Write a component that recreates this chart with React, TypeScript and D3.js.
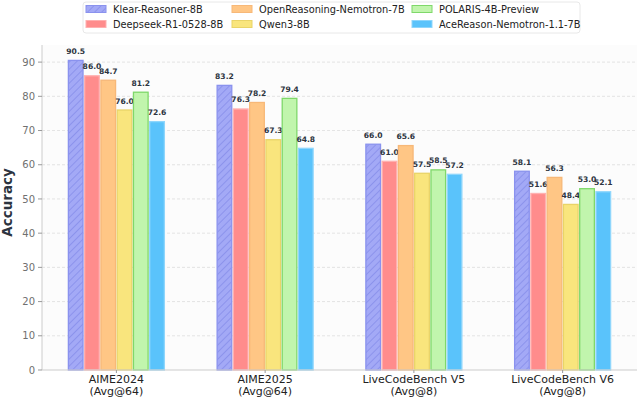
import React from "react";
import * as d3 from "d3";

const benchmarks = ["AIME2024", "AIME2025", "LiveCodeBench V5", "LiveCodeBench V6"];
const subLabels = ["(Avg@64)", "(Avg@64)", "(Avg@8)", "(Avg@8)"];
const models = [
  "Klear-Reasoner-8B",
  "Deepseek-R1-0528-8B",
  "OpenReasoning-Nemotron-7B",
  "Qwen3-8B",
  "POLARIS-4B-Preview",
  "AceReason-Nemotron-1.1-7B",
];
const klear = [90.5, 83.2, 66.0, 58.1];
const deepseek = [86.0, 76.3, 61.0, 51.6];
const openReasoning = [84.7, 78.2, 65.6, 56.3];
const qwen3 = [76.0, 67.3, 57.5, 48.4];
const polaris = [81.2, 79.4, 58.5, 53.0];
const aceReason = [72.6, 64.8, 57.2, 52.1];
const series = [klear, deepseek, openReasoning, qwen3, polaris, aceReason];
const yTicks = [0, 10, 20, 30, 40, 50, 60, 70, 80, 90];

const fills = ["#a3a9f6", "#ff8c8c", "#ffc685", "#f9e57d", "#c1f5ad", "#5ac3fb"];
const strokes = ["#8a92ee", "#ffb0b0", "#f7b878", "#e9d468", "#7fd86a", "#8fd6fc"];

const W = 640;
const H = 398;
const margin = { top: 45, right: 3, bottom: 28, left: 42 };
const font = "DejaVu Sans, sans-serif";

export default function App() {
  const x = d3
    .scalePoint<string>()
    .domain(benchmarks)
    .range([margin.left, W - margin.right])
    .padding(0.5);
  const inner = d3
    .scaleBand<string>()
    .domain(models)
    .range([-48, 48])
    .paddingInner(0.1);
  const y = d3.scaleLinear().domain([0, 95]).range([H - margin.bottom, margin.top]);

  const legendCols = [86, 232, 412];
  const legendRows = [9, 24];

  return (
    <svg
      width={W}
      height={H}
      style={{ position: "absolute", left: 0, top: 0, fontFamily: font }}
    >
      <defs>
        <pattern
          id="hatch"
          patternUnits="userSpaceOnUse"
          width={5}
          height={5}
          patternTransform="rotate(45)"
        >
          <rect width={5} height={5} fill={fills[0]} />
          <line x1={0} y1={0} x2={0} y2={5} stroke="#7c84e6" strokeWidth={1.2} />
        </pattern>
      </defs>
      <rect x={0} y={0} width={W} height={H} fill="#ffffff" />
      <rect
        x={margin.left}
        y={margin.top}
        width={W - margin.left - margin.right}
        height={H - margin.top - margin.bottom}
        fill="#fcfcfc"
      />
      {/* grid */}
      {yTicks.slice(1).map((t) => (
        <line
          key={t}
          x1={margin.left}
          x2={W - margin.right}
          y1={y(t)}
          y2={y(t)}
          stroke="#dddddd"
          strokeWidth={0.8}
          strokeDasharray="3,2"
        />
      ))}
      {/* bars */}
      {benchmarks.map((b, i) => (
        <g key={b} transform={`translate(${x(b)},0)`}>
          {models.map((m, j) => {
            const v = series[j][i];
            const bx = inner(m)!;
            return (
              <g key={m}>
                <rect
                  x={bx}
                  y={y(v)}
                  width={inner.bandwidth()}
                  height={y(0) - y(v)}
                  fill={j === 0 ? "url(#hatch)" : fills[j]}
                  stroke={strokes[j]}
                  strokeWidth={1.3}
                />
                <text
                  x={bx + inner.bandwidth() / 2}
                  y={y(v) - 6.5}
                  textAnchor="middle"
                  fontSize={7.6}
                  fontWeight="bold"
                  fill="#2c3440"
                >
                  {v.toFixed(1)}
                </text>
              </g>
            );
          })}
        </g>
      ))}
      {/* axes */}
      <line
        x1={margin.left}
        x2={margin.left}
        y1={margin.top}
        y2={y(0)}
        stroke="#cccccc"
        strokeWidth={1}
      />
      <line
        x1={margin.left}
        x2={W - margin.right}
        y1={y(0)}
        y2={y(0)}
        stroke="#cccccc"
        strokeWidth={1}
      />
      {yTicks.map((t) => (
        <g key={t}>
          <line x1={margin.left - 4} x2={margin.left} y1={y(t)} y2={y(t)} stroke="#999" />
          <text
            x={margin.left - 7}
            y={y(t) + 3.6}
            textAnchor="end"
            fontSize={10}
            fill="#707070"
          >
            {t}
          </text>
        </g>
      ))}
      {benchmarks.map((b, i) => (
        <g key={b}>
          <line x1={x(b)} x2={x(b)} y1={y(0)} y2={y(0) + 3} stroke="#999" />
          <text x={x(b)} y={383} textAnchor="middle" fontSize={11} fill="#222">
            {b}
          </text>
          <text x={x(b)} y={395} textAnchor="middle" fontSize={11} fill="#222">
            {subLabels[i]}
          </text>
        </g>
      ))}
      <text
        transform={`translate(12,${(margin.top + y(0)) / 2 - 5}) rotate(-90)`}
        textAnchor="middle"
        fontSize={13.5}
        fontWeight="bold"
        fill="#2c3440"
      >
        Accuracy
      </text>
      {/* legend */}
      <rect
        x={83}
        y={2}
        width={497}
        height={31}
        rx={3}
        fill="#ffffff"
        stroke="#e2e2e2"
        strokeWidth={0.8}
      />
      {models.map((m, j) => {
        const lx = legendCols[Math.floor(j / 2)];
        const ly = legendRows[j % 2];
        return (
          <g key={m}>
            <rect
              x={lx}
              y={ly - 3.5}
              width={20}
              height={7}
              fill={j === 0 ? "url(#hatch)" : fills[j]}
              stroke={strokes[j]}
              strokeWidth={1}
            />
            <text x={lx + 27} y={ly + 3.6} fontSize={9.8} fill="#222">
              {m}
            </text>
          </g>
        );
      })}
    </svg>
  );
}
